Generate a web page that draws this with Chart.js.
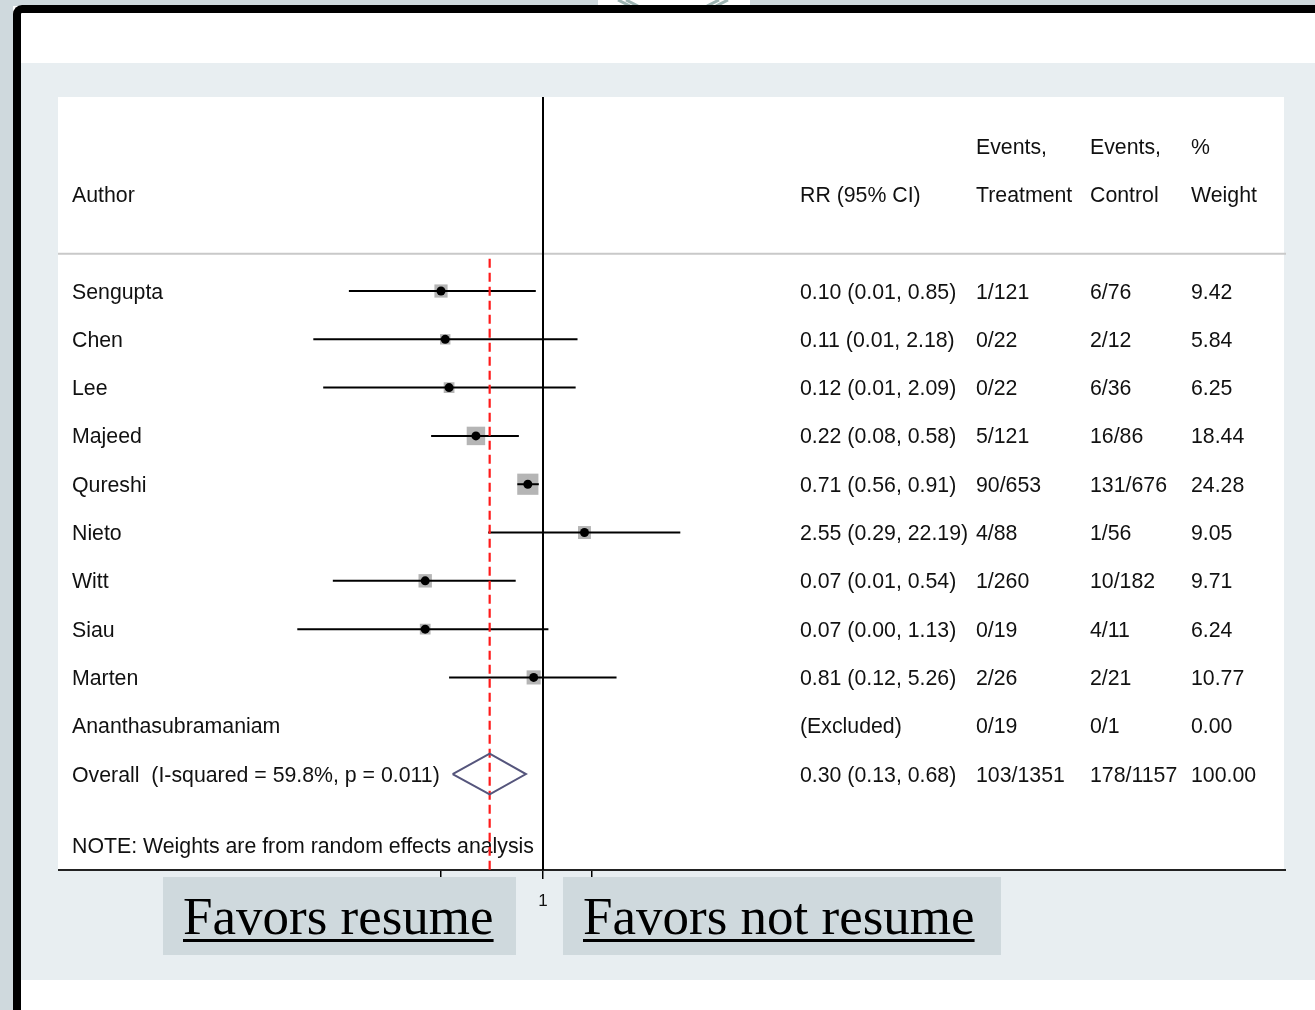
<!DOCTYPE html>
<html>
<head>
<meta charset="utf-8">
<title>Forest plot - resume vs not resume</title>
<script src="https://cdn.jsdelivr.net/npm/chart.js@4.4.1/dist/chart.umd.min.js"></script>
<style>
    html, body { margin: 0; padding: 0; background: #fff; width: 1315px; height: 1010px; overflow: hidden; position: relative; }
    .strip-left { position: absolute; left: 0; top: 0; width: 13px; height: 1010px; background: #cfd9dd; }
    .strip-top { position: absolute; top: 0; height: 6px; background: #cfd9dd; }
    .frame { position: absolute; left: 13px; top: 5px; width: 1320px; height: 1020px; box-sizing: border-box;
             border-left: 8px solid #000; border-top: 8px solid #000; border-top-left-radius: 9px; background: #fff; }
    .panel { position: absolute; left: 21px; top: 63px; width: 1294px; height: 917px; background: #e8eef1; }
    .plot-bg { position: absolute; left: 58px; top: 97px; width: 1226px; height: 773px; background: #fff; }
    #chart { position: absolute; left: 58px; top: 97px; }
    .favors { position: absolute; top: 877px; height: 78px; box-sizing: border-box; padding-left: 20px;
              background: #cfd9dd; color: #000; font-family: "Liberation Serif", "Times New Roman", serif;
              font-size: 53px; line-height: 78px; white-space: nowrap; }
    .favors span { text-decoration: underline; text-decoration-thickness: 3px; text-underline-offset: 5px; }
    svg.chev { position: absolute; left: 600px; top: 0; }
</style>
</head>
<body>
<div class="strip-left"></div>
<div class="strip-top" style="left:0; width:598px;"></div>
<div class="strip-top" style="left:750px; width:565px;"></div>
<svg class="chev" width="150" height="6">
    <path d="M18 0 L30 6 M26 0 L38 6 M107 6 L119 0 M116 6 L128 0" stroke="#9db4b2" stroke-width="3" fill="none"/>
</svg>
<div class="frame"></div>
<div class="panel"></div>
<div class="plot-bg"></div>
<canvas id="chart" width="1228" height="813"></canvas>
<div class="favors" style="left:163px; width:353px;"><span>Favors resume</span></div>
<div class="favors" style="left:563px; width:438px;"><span>Favors not resume</span></div>

<script>
// --- données de l'étude ---
const authors = ['Sengupta', 'Chen', 'Lee', 'Majeed', 'Qureshi', 'Nieto', 'Witt', 'Siau', 'Marten', 'Ananthasubramaniam'];
const rr      = [0.10, 0.11, 0.12, 0.22, 0.71, 2.55, 0.07, 0.07, 0.81, null];
const ciLow   = [0.0125, 0.0056, 0.007, 0.08, 0.56, 0.29, 0.0087, 0.0039, 0.12, null];
const ciHigh  = [0.85, 2.18, 2.09, 0.58, 0.91, 22.19, 0.54, 1.13, 5.26, null];
const rrText  = ['0.10 (0.01, 0.85)', '0.11 (0.01, 2.18)', '0.12 (0.01, 2.09)', '0.22 (0.08, 0.58)', '0.71 (0.56, 0.91)',
                 '2.55 (0.29, 22.19)', '0.07 (0.01, 0.54)', '0.07 (0.00, 1.13)', '0.81 (0.12, 5.26)', '(Excluded)'];
const eventsTreatment = ['1/121', '0/22', '0/22', '5/121', '90/653', '4/88', '1/260', '0/19', '2/26', '0/19'];
const eventsControl   = ['6/76', '2/12', '6/36', '16/86', '131/676', '1/56', '10/182', '4/11', '2/21', '0/1'];
const weights = [9.42, 5.84, 6.25, 18.44, 24.28, 9.05, 9.71, 6.24, 10.77, 0.00];

// résultat global
const overallRR = 0.30;
const overallCI = [0.13, 0.68];
const overallText = ['Overall  (I-squared = 59.8%, p = 0.011)', '0.30 (0.13, 0.68)', '103/1351', '178/1157', '100.00'];
const noteText = 'NOTE: Weights are from random effects analysis';

// axe des x
const xTicks = [0.1, 1, 3];
const xTickLabels = ['', '1', ''];

// --- mise en page ---
const PX_PER_DECADE = 102;
const ONE_AT = 485;                 // position de 1 dans la zone du graphique
const CHART_W = 1228;
const X_MIN = Math.pow(10, -ONE_AT / PX_PER_DECADE);
const X_MAX = Math.pow(10, (CHART_W - ONE_AT) / PX_PER_DECADE);
const Y_MIN = -4.017;
const Y_MAX = 11.987;
const HEADER_TOP = -3, HEADER = -2, SEPARATOR = -0.77, OVERALL = 10, NOTE = 11.49;
const colX = { author: 14, rr: 742, treat: 918, ctrl: 1032, weight: 1133 };
const FONT = '21.3px "Liberation Sans", Arial, sans-serif';

const idx = authors.map((_, i) => i).filter(i => rr[i] !== null);

// Tableau de texte dessiné derrière les marques
const tablePlugin = {
    id: 'forestTable',
    beforeDatasetsDraw(chart) {
        const ctx = chart.ctx;
        const y = chart.scales.y;
        ctx.save();
        ctx.font = FONT;
        ctx.fillStyle = '#111';
        ctx.textAlign = 'left';
        ctx.textBaseline = 'alphabetic';
        const put = (txt, x, row) => ctx.fillText(txt, x, y.getPixelForValue(row) + 7.5);

        // en-têtes
        put('Author', colX.author, HEADER);
        put('RR (95% CI)', colX.rr, HEADER);
        put('Events,', colX.treat, HEADER_TOP);
        put('Treatment', colX.treat, HEADER);
        put('Events,', colX.ctrl, HEADER_TOP);
        put('Control', colX.ctrl, HEADER);
        put('%', colX.weight, HEADER_TOP);
        put('Weight', colX.weight, HEADER);

        // lignes des études
        authors.forEach((a, i) => {
            put(a, colX.author, i);
            put(rrText[i], colX.rr, i);
            put(eventsTreatment[i], colX.treat, i);
            put(eventsControl[i], colX.ctrl, i);
            put(weights[i].toFixed(2), colX.weight, i);
        });

        // global + note
        put(overallText[0], colX.author, OVERALL);
        put(overallText[1], colX.rr, OVERALL);
        put(overallText[2], colX.treat, OVERALL);
        put(overallText[3], colX.ctrl, OVERALL);
        put(overallText[4], colX.weight, OVERALL);
        put(noteText, colX.author, NOTE);
        ctx.restore();
    }
};

const datasets = [];

// point central
datasets.push({
    type: 'scatter',
    data: idx.map(i => ({ x: rr[i], y: i })),
    pointStyle: 'circle',
    pointRadius: 4.5,
    backgroundColor: '#000',
    borderWidth: 0,
    order: 0
});

// losange global
datasets.push({
    type: 'line',
    data: [
        { x: overallCI[0], y: OVERALL },
        { x: overallRR, y: OVERALL - 0.42 },
        { x: overallCI[1], y: OVERALL },
        { x: overallRR, y: OVERALL + 0.42 },
        { x: overallCI[0], y: OVERALL }
    ],
    borderColor: '#55557c',
    borderWidth: 2,
    pointRadius: 0,
    tension: 0,
    order: 1
});

// ligne rouge pointillée (effet global)
datasets.push({
    type: 'line',
    data: [{ x: overallRR, y: SEPARATOR + 0.1 }, { x: overallRR, y: Y_MAX }],
    borderColor: '#ff1a1a',
    borderWidth: 2.2,
    borderDash: [9, 5],
    pointRadius: 0,
    order: 2
});

// ligne de non-effet
datasets.push({
    type: 'line',
    data: [{ x: 1, y: Y_MIN }, { x: 1, y: Y_MAX }],
    borderColor: '#000',
    borderWidth: 2,
    pointRadius: 0,
    order: 3
});

// intervalles de confiance
idx.forEach(i => {
    datasets.push({
        type: 'line',
        data: [{ x: ciLow[i], y: i }, { x: ciHigh[i], y: i }],
        borderColor: '#000',
        borderWidth: 2,
        pointRadius: 0,
        order: 4
    });
});

// carrés de poids
datasets.push({
    type: 'scatter',
    data: idx.map(i => ({ x: rr[i], y: i })),
    pointStyle: 'rect',
    pointRadius: idx.map(i => 4.3 * Math.sqrt(weights[i]) / Math.SQRT2),
    backgroundColor: '#b5b5b5',
    borderWidth: 0,
    order: 5
});

// séparateur sous l'en-tête
datasets.push({
    type: 'line',
    data: [{ x: X_MIN, y: SEPARATOR }, { x: X_MAX, y: SEPARATOR }],
    borderColor: '#c9c9c9',
    borderWidth: 2,
    pointRadius: 0,
    order: 6
});

new Chart(document.getElementById('chart').getContext('2d'), {
    type: 'scatter',
    data: { datasets: datasets },
    options: {
        responsive: false,
        maintainAspectRatio: false,
        animation: false,
        layout: { padding: 0, autoPadding: false },
        plugins: {
            legend: { display: false },
            tooltip: { enabled: false }
        },
        scales: {
            x: {
                type: 'logarithmic',
                bounds: 'data',
                min: X_MIN,
                max: X_MAX,
                afterBuildTicks: (scale) => {
                    scale.ticks = xTicks.map(v => ({ value: v }));
                },
                afterFit: (scale) => { scale.height = 40; },
                ticks: {
                    autoSkip: false,
                    maxRotation: 0,
                    padding: 12,
                    color: '#111',
                    font: { family: '"Liberation Sans", Arial, sans-serif', size: 17 },
                    callback: (v, i) => xTickLabels[i]
                },
                grid: {
                    drawOnChartArea: false,
                    drawTicks: true,
                    tickLength: 9,
                    color: '#000',
                    lineWidth: 1.5
                },
                border: { display: true, color: '#222', width: 2 }
            },
            y: {
                type: 'linear',
                display: false,
                reverse: true,
                min: Y_MIN,
                max: Y_MAX
            }
        }
    },
    plugins: [tablePlugin]
});
</script>
</body>
</html>
